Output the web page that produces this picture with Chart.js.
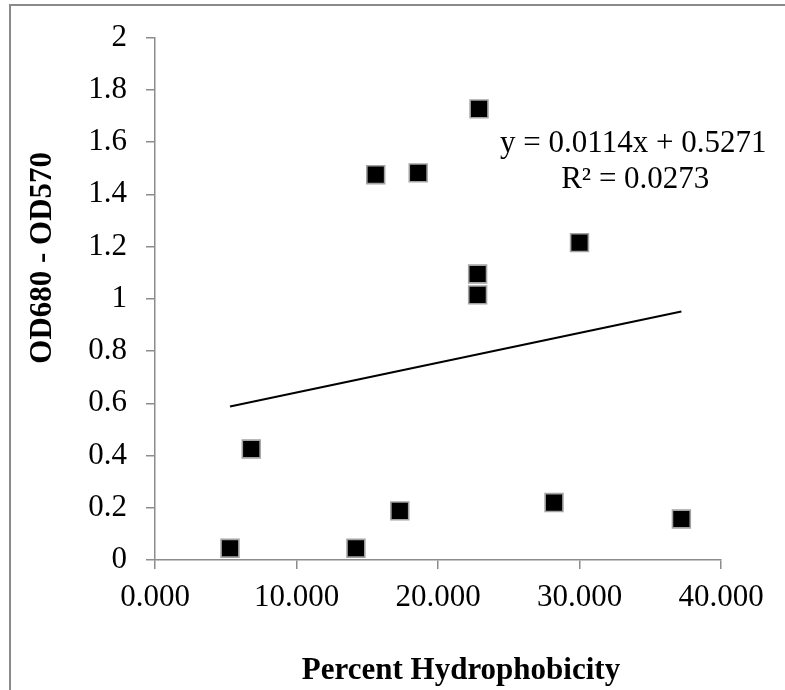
<!DOCTYPE html>
<html>
<head>
<meta charset="utf-8">
<script src="https://cdn.jsdelivr.net/npm/chart.js@4/dist/chart.umd.min.js"></script>
<style>
  html, body { margin: 0; padding: 0; background: #fff; }
  #wrap { position: relative; width: 785px; height: 690px; }
</style>
</head>
<body>
<div id="wrap"><canvas id="c"></canvas></div>
<script>
// Percent hydrophobicity vs. OD680 - OD570
const hydrophobicity = [5.3, 6.8, 14.2, 17.3, 15.6, 18.6, 22.9, 22.8, 22.8, 30.0, 28.2, 37.2];
const odDifference   = [0.045, 0.425, 0.045, 0.188, 1.475, 1.482, 1.727, 1.095, 1.015, 1.215, 0.220, 0.157];

// Linear trendline as reported on the chart
const trendSlope = 0.0114;
const trendIntercept = 0.5271;
const trendLabel = ['y = 0.0114x + 0.5271', 'R\u00B2 = 0.0273'];

const xTitle = 'Percent Hydrophobicity';
const yTitle = 'OD680 - OD570';

const points = hydrophobicity.map((x, i) => ({ x: x, y: odDifference[i] }));
const xMin = Math.min(...hydrophobicity);
const xMax = Math.max(...hydrophobicity);
const trendPoints = [xMin, xMax].map(x => ({ x: x, y: trendSlope * x + trendIntercept }));

const serif = "'Liberation Serif', 'Times New Roman', serif";
const axisGray = '#8c8c8c';

const frameAndText = {
  id: 'frameAndText',
  afterDraw(chart) {
    const ctx = chart.ctx;
    const area = chart.chartArea;
    const xs = chart.scales.x, ys = chart.scales.y;
    ctx.save();
    // outer frame (top and left edges)
    ctx.strokeStyle = '#8a8a8a';
    ctx.lineWidth = 2;
    ctx.beginPath();
    ctx.moveTo(10, 690);
    ctx.lineTo(10, 5);
    ctx.lineTo(785, 5);
    ctx.stroke();

    ctx.fillStyle = '#000';
    ctx.textAlign = 'center';
    ctx.textBaseline = 'middle';
    // trendline equation
    ctx.font = '31px ' + serif;
    const ex = xs.getPixelForValue(33.8);
    const ey = ys.getPixelForValue(1.594);
    ctx.fillText(trendLabel[0], ex, ey);
    ctx.fillText(trendLabel[1], ex + 2, ey + 36);

    // axis titles
    ctx.font = 'bold 31px ' + serif;
    ctx.fillText(xTitle, area.left + (area.right - area.left) / 2 + 23, 671);
    ctx.translate(43, area.top + (area.bottom - area.top) / 2 - 41);
    ctx.rotate(-Math.PI / 2);
    ctx.fillText(yTitle, 0, 0);
    ctx.restore();
  }
};

new Chart(document.getElementById('c'), {
  type: 'scatter',
  data: {
    datasets: [
      {
        label: 'data',
        data: points,
        pointStyle: 'rect',
        pointRadius: 12.6,
        pointHoverRadius: 12.6,
        backgroundColor: '#000',
        borderColor: '#a3a3a3',
        borderWidth: 1.6,
        order: 1
      },
      {
        type: 'line',
        label: 'trend',
        data: trendPoints,
        showLine: true,
        borderColor: '#000',
        borderWidth: 2,
        pointRadius: 0,
        fill: false,
        order: 2
      }
    ]
  },
  options: {
    responsive: true,
    maintainAspectRatio: false,
    animation: false,
    events: [],
    layout: { padding: { left: 0, top: 35, right: 64, bottom: 0 } },
    plugins: {
      legend: { display: false },
      tooltip: { enabled: false },
      title: { display: false }
    },
    scales: {
      x: {
        type: 'linear',
        min: 0,
        max: 40,
        afterFit(scale) { scale.height = 130; },
        ticks: {
          stepSize: 10,
          color: '#000',
          padding: 10,
          maxRotation: 0,
          font: { family: serif, size: 31 },
          callback: v => v.toFixed(3)
        },
        grid: { drawOnChartArea: false, drawTicks: true, tickLength: 9, color: axisGray, lineWidth: 1.5 },
        border: { display: true, color: axisGray, width: 1.5 }
      },
      y: {
        type: 'linear',
        min: 0,
        max: 2,
        afterFit(scale) { scale.width = 155; },
        ticks: {
          stepSize: 0.2,
          color: '#000',
          padding: 19,
          font: { family: serif, size: 31 },
          callback: v => String(Math.round(v * 10) / 10)
        },
        grid: { drawOnChartArea: false, drawTicks: true, tickLength: 9, color: axisGray, lineWidth: 1.5 },
        border: { display: true, color: axisGray, width: 1.5 }
      }
    }
  },
  plugins: [frameAndText]
});
</script>
</body>
</html>
